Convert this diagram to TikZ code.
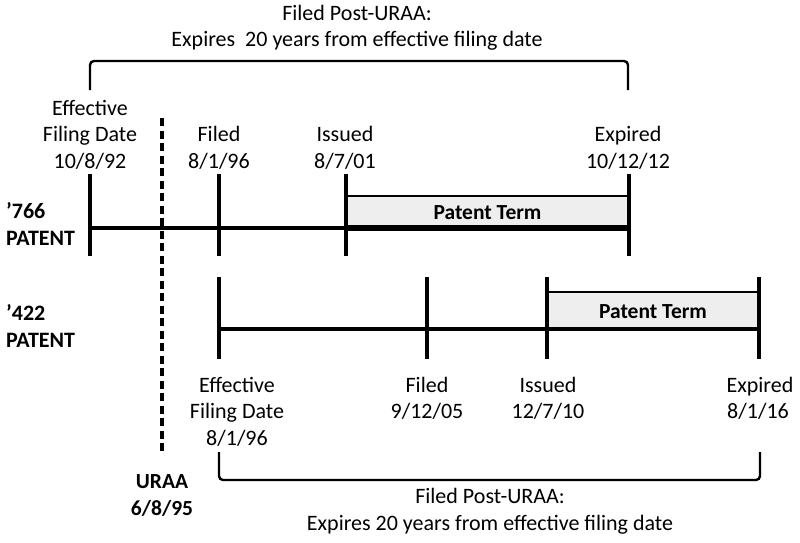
\documentclass[tikz,border=0pt]{standalone}
\usepackage{fontspec}
\setmainfont{Carlito}
\begin{document}
\begin{tikzpicture}[x=1pt,y=-1pt,
  txt/.style={anchor=base,inner sep=0pt,font=\fontsize{22}{26.5}\selectfont},
  btxt/.style={anchor=base,inner sep=0pt,font=\fontsize{21.5}{26.5}\selectfont\bfseries},
  ltxt/.style={anchor=base west,inner sep=0pt,font=\fontsize{22}{26.5}\selectfont\bfseries},
  tick/.style={line width=3.4pt},
  mainline/.style={line width=3.2pt},
  termbox/.style={draw,line width=2.4pt,fill=gray!13},
  thickline/.style={line width=6pt},
  bracket/.style={line width=2.4pt,rounded corners=4pt},
  uraa/.style={line width=3.6pt,dash pattern=on 8pt off 4.5pt}]
\useasboundingbox (0,0) rectangle (800,542);

% header
\node[txt] (h1) at (357,20) {Filed Post-URAA:};
\node[txt] (h2) at (357,46.5) {Expires\ \ 20 years from effective filing date};
\coordinate (tb1) at (90,90);
\coordinate (tb2) at (90,61);
\coordinate (tb3) at (628,61);
\coordinate (tb4) at (628,90);
\draw[bracket] (tb1) -- (tb2) -- (tb3) -- (tb4);

% '766 labels
\node[txt] (ae1) at (90,115) {Effective};
\node[txt] (ae2) at (90,141.5) {Filing Date};
\node[txt] (ae3) at (90,168) {10/8/92};
\node[txt] (af1) at (219,141.5) {Filed};
\node[txt] (af2) at (219,168) {8/1/96};
\node[txt] (ai1) at (345,141.5) {Issued};
\node[txt] (ai2) at (345,168) {8/7/01};
\node[txt] (ax1) at (628,141.5) {Expired};
\node[txt] (ax2) at (628,168) {10/12/12};
\node[ltxt] (p1a) at (6,218) {’766};
\node[ltxt] (p1b) at (6,245) {PATENT};

% '766 timeline
\coordinate (a1t) at (90,174);  \coordinate (a1b) at (90,256);
\coordinate (a2t) at (219,174); \coordinate (a2b) at (219,256);
\coordinate (a3t) at (346,174); \coordinate (a3b) at (346,256);
\coordinate (a4t) at (629,174); \coordinate (a4b) at (629,256);
\coordinate (a1m) at (90,228);  \coordinate (a3m) at (346,228);
\coordinate (a4m) at (629,228); \coordinate (a3u) at (346,196);
\draw[termbox] (a3u) rectangle (a4m);
\draw[mainline] (a1m) -- (a4m);
\draw[thickline] (a3m) -- (a4m);
\draw[tick] (a1t) -- (a1b);
\draw[tick] (a2t) -- (a2b);
\draw[tick] (a3t) -- (a3b);
\draw[tick] (a4t) -- (a4b);
\node[btxt] (pt1) at (487.5,219.5) {Patent Term};

% URAA dashed line
\coordinate (u1) at (162,118);
\coordinate (u2) at (162,455);
\draw[uraa] (u1) -- (u2);
\node[btxt] (ur1) at (162,488) {URAA};
\node[btxt] (ur2) at (162,515) {6/8/95};

% '422 timeline
\node[ltxt] (p2a) at (6,320) {’422};
\node[ltxt] (p2b) at (6,347) {PATENT};
\coordinate (b1t) at (219,277); \coordinate (b1b) at (219,359);
\coordinate (b2t) at (427,277); \coordinate (b2b) at (427,359);
\coordinate (b3t) at (547,277); \coordinate (b3b) at (547,359);
\coordinate (b4t) at (759,277); \coordinate (b4b) at (759,359);
\coordinate (b1m) at (219,329); \coordinate (b4m) at (759,329);
\coordinate (b3u) at (547,292);
\draw[termbox] (b3u) rectangle (b4m);
\draw[mainline] (b1m) -- (b4m);
\draw[tick] (b1t) -- (b1b);
\draw[tick] (b2t) -- (b2b);
\draw[tick] (b3t) -- (b3b);
\draw[tick] (b4t) -- (b4b);
\node[btxt] (pt2) at (653,318) {Patent Term};

% '422 labels
\node[txt] (be1) at (237,392) {Effective};
\node[txt] (be2) at (237,418) {Filing Date};
\node[txt] (be3) at (237,445) {8/1/96};
\node[txt] (bf1) at (427,392) {Filed};
\node[txt] (bf2) at (427,418) {9/12/05};
\node[txt] (bi1) at (548,392) {Issued};
\node[txt] (bi2) at (548,418) {12/7/10};
\node[txt] (bx1) at (760,392) {Expired};
\node[txt] (bx2) at (758,418) {8/1/16};

% bottom bracket
\coordinate (bb1) at (219,452);
\coordinate (bb2) at (219,480);
\coordinate (bb3) at (760,480);
\coordinate (bb4) at (760,452);
\draw[bracket] (bb1) -- (bb2) -- (bb3) -- (bb4);
\node[txt] (f1) at (490,503) {Filed Post-URAA:};
\node[txt] (f2) at (490,530) {Expires 20 years from effective filing date};
\end{tikzpicture}
\end{document}
